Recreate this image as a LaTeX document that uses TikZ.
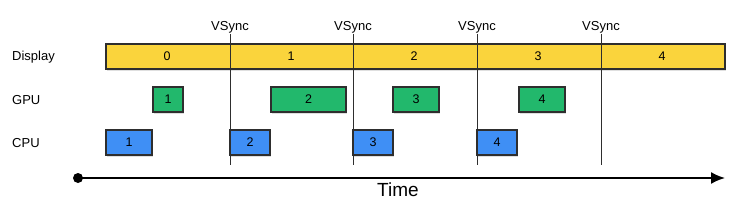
\documentclass[tikz,border=0pt]{standalone}
\usepackage{fontspec}
\setmainfont{Liberation Sans}
\usetikzlibrary{arrows.meta,shadows}
\definecolor{dispyellow}{HTML}{FAD43C}
\definecolor{gpugreen}{HTML}{22B86C}
\definecolor{cpublue}{HTML}{3F8FF5}
\definecolor{edgegray}{HTML}{2E2E2E}
\begin{document}
\begin{tikzpicture}[
			x=1pt, y=-1pt,
			>={Latex[length=14pt,width=12pt]},
			every node/.style={font=\fontsize{13}{15}\selectfont, align=center},
			frame/.style={rectangle, draw=edgegray, line width=1.1pt, minimum height=25pt, inner sep=0pt,
				drop shadow={opacity=0.25, shadow xshift=1.2pt, shadow yshift=-1.6pt}},
			bar/.style={frame, fill=dispyellow},
			gpubox/.style={frame, fill=gpugreen},
			cpubox/.style={frame, fill=cpublue},
			num/.style={font=\fontsize{12.5}{14}\selectfont},
			rowlabel/.style={anchor=west, inner sep=0pt},
			vsline/.style={draw=edgegray, line width=1pt}
		]
			\useasboundingbox (0,0) rectangle (751,203);

			% row labels
			\node[rowlabel] (ldisp) at (12,57) {Display};
			\node[rowlabel] (lgpu) at (12,100) {GPU};
			\node[rowlabel] (lcpu) at (12,143) {CPU};

			% display bar
			\node[bar, minimum width=619pt] (display) at (415.5,56.5) {};
			\node[num] (d0) at (167,56.5) {0};
			\node[num] (d1) at (291,56.5) {1};
			\node[num] (d2) at (414,56.5) {2};
			\node[num] (d3) at (538,56.5) {3};
			\node[num] (d4) at (662,56.5) {4};

			% gpu frames
			\node[gpubox, num, minimum width=30pt] (gpu1) at (168,99.5) {1};
			\node[gpubox, num, minimum width=75pt] (gpu2) at (308.5,99.5) {2};
			\node[gpubox, num, minimum width=46pt] (gpu3) at (416,99.5) {3};
			\node[gpubox, num, minimum width=46pt] (gpu4) at (542,99.5) {4};

			% cpu frames
			\node[cpubox, num, minimum width=46pt] (cpu1) at (129,142.5) {1};
			\node[cpubox, num, minimum width=40pt] (cpu2) at (250,142.5) {2};
			\node[cpubox, num, minimum width=40pt] (cpu3) at (373,142.5) {3};
			\node[cpubox, num, minimum width=40pt] (cpu4) at (497,142.5) {4};

			% vsync markers
			\foreach \i/\x in {1/230,2/353,3/477,4/601} {
				\coordinate (vt\i) at (\x,34);
				\coordinate (vb\i) at (\x,165);
				\node[above=1pt, inner sep=0pt] (vs\i) at (vt\i) {VSync};
				\draw[vsline] (vt\i) -- (vb\i);
			}

			% time axis
			\coordinate (tend) at (725,178);
			\node[circle, fill=black, inner sep=0pt, minimum size=10pt] (tstart) at (78,178) {};
			\draw[->, line width=1.8pt] (tstart.center) -- (tend);
			\node[font=\fontsize{19}{22}\selectfont] (time) at (398,190) {Time};
		\end{tikzpicture}
\end{document}
